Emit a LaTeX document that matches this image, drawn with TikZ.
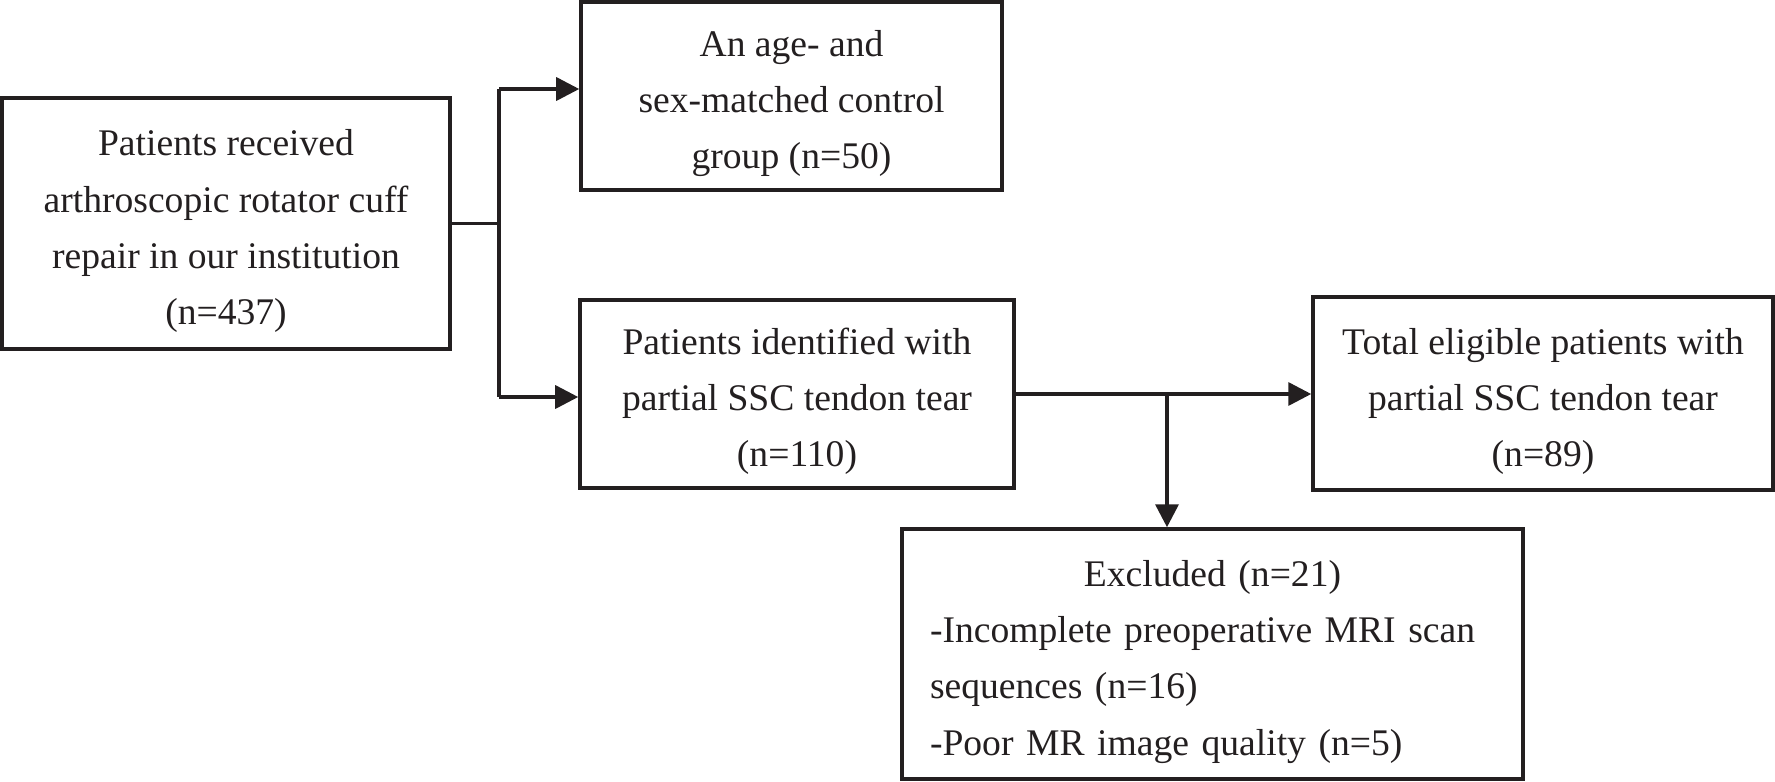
\documentclass[tikz,border=0pt]{standalone}
\usepackage{fontspec}
\setmainfont{Liberation Serif}
\usetikzlibrary{arrows.meta}

\definecolor{ink}{HTML}{231F20}
\newcommand{\boxstrut}{\rule{0pt}{11.8pt}}

\tikzstyle{line} = [draw=ink, line width=1pt, -{Triangle[length=2.3mm,width=2.3mm]}]
\tikzstyle{plain} = [draw=ink, line width=1pt]
\tikzstyle{box} = [draw=ink, line width=1pt, rectangle, align=center, inner sep=0pt, text=ink, font=\fontsize{10.7}{16}\selectfont]

\begin{document}
\begin{tikzpicture}[]
		\useasboundingbox (0,0) rectangle (17.75,7.81);
		
		%boxes
		\node[box, minimum width=4.48cm, minimum height=2.51cm](patients) at (2.26,5.575) {\boxstrut Patients received\\arthroscopic rotator cuff\\repair in our institution\\(n=437)};
		\node[box, minimum width=4.21cm, minimum height=1.88cm](control) at (7.915,6.85) {\boxstrut An age- and\\sex-matched control\\group (n=50)};
		\node[box, minimum width=4.34cm, minimum height=1.88cm](identified) at (7.97,3.87) {\boxstrut Patients identified with\\partial SSC tendon tear\\(n=110)};
		\node[box, minimum width=4.60cm, minimum height=1.93cm](eligible) at (15.43,3.875) {\boxstrut Total eligible patients with\\partial SSC tendon tear\\(n=89)};
		\node[box, minimum width=6.21cm, minimum height=2.50cm, text width=5.65cm, align=left](excluded) at (12.125,1.27) {\boxstrut\makebox[5.65cm]{Excluded (n=21)}\\-Incomplete preoperative MRI scan\\sequences (n=16)\\-Poor MR image quality (n=5)};
		
		%junctions
		\coordinate (split) at (4.99,5.575);
		\coordinate (splittop) at (4.99,6.92);
		\coordinate (splitbot) at (4.99,3.84);
		\coordinate (branch) at (11.67,3.87);
		
		%arrows
		\draw[plain] (patients.east |- split) -- (split);
		\draw[plain] (splittop) -- (splitbot);
		\draw[line] (splittop) -- (control.west |- splittop);
		\draw[line] (splitbot) -- (identified.west |- splitbot);
		\draw[line] (identified.east |- branch) -- (eligible.west |- branch);
		\draw[line] (branch) -- (branch |- excluded.north);
\end{tikzpicture}
\end{document}
